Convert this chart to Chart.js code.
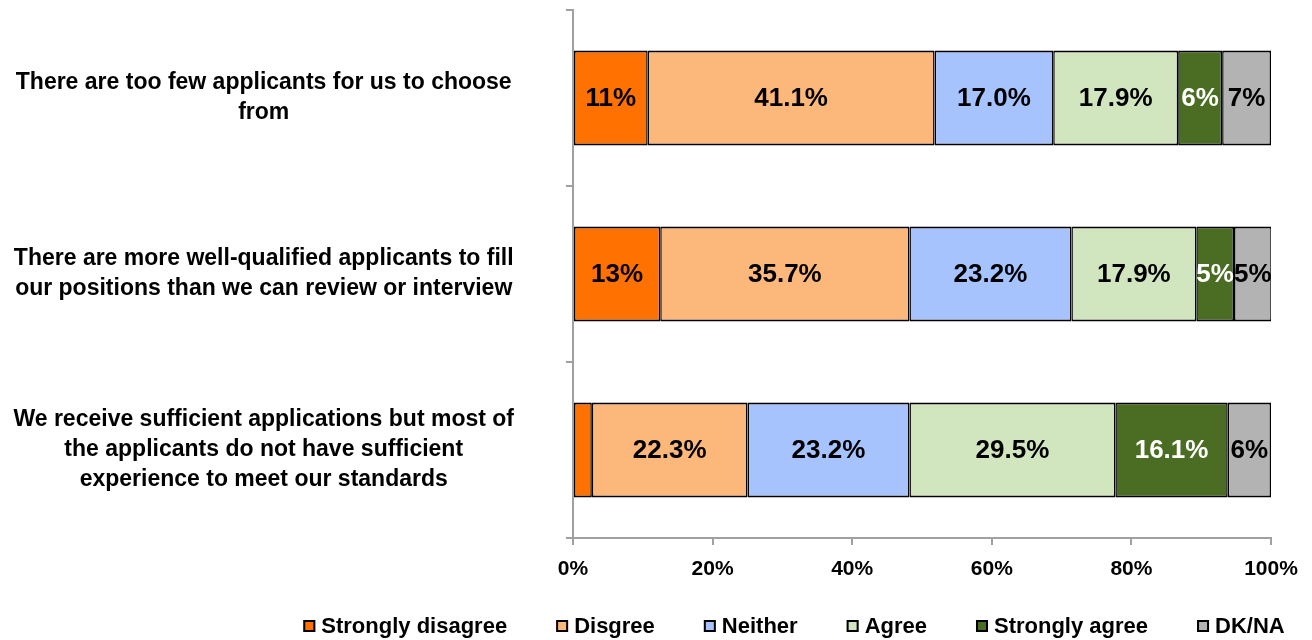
<!DOCTYPE html>
<html>
<head>
<meta charset="utf-8">
<script src="https://cdn.jsdelivr.net/npm/chart.js@4/dist/chart.umd.min.js"></script>
<style>
  html, body { margin: 0; padding: 0; background: #ffffff; }
  #wrap { width: 1312px; height: 640px; }
</style>
</head>
<body>
<div id="wrap"><canvas id="c" width="1312" height="640"></canvas></div>
<script>
// Survey statements (one line of text per array entry)
const statements = [
  ["There are too few applicants for us to choose", "from"],
  ["There are more well-qualified applicants to fill", "our positions than we can review or interview"],
  ["We receive sufficient applications but most of", "the applicants do not have sufficient", "experience to meet our standards"]
];

const seriesNames = ["Strongly disagree", "Disgree", "Neither", "Agree", "Strongly agree", "DK/NA"];

// Share of respondents (%) per statement
const stronglyDisagree = [10.7, 12.5, 2.7];
const disagree         = [41.1, 35.7, 22.3];
const neither          = [17.0, 23.2, 23.2];
const agree            = [17.9, 17.9, 29.5];
const stronglyAgree    = [6.3, 5.4, 16.1];
const dkNa             = [7.0, 5.4, 6.2];

const xTickValues = [0, 20, 40, 60, 80, 100];

const seriesValues = [stronglyDisagree, disagree, neither, agree, stronglyAgree, dkNa];
const fillColors = ["#FF7100", "#FCB77A", "#A7C3FD", "#D1E5BE", "#4A6D23", "#B3B3B3"];
const textColors = ["#000000", "#000000", "#000000", "#000000", "#FFFFFF", "#000000"];

const FONT = '"Liberation Sans", Arial, Helvetica, sans-serif';
const AXIS_GREY = "#A0A0A0";

// Percent labels centred on each segment
const segmentLabels = {
  id: "segmentLabels",
  afterDatasetsDraw(chart, args, opts) {
    const ctx = chart.ctx;
    ctx.save();
    ctx.font = opts.font;
    ctx.textAlign = "center";
    ctx.textBaseline = "middle";
    chart.data.datasets.forEach((ds, di) => {
      const meta = chart.getDatasetMeta(di);
      meta.data.forEach((bar, i) => {
        const v = ds.data[i];
        if (v < opts.minValue) return;
        const txt = (v >= 15 ? v.toFixed(1) : String(Math.round(v))) + "%";
        ctx.fillStyle = ds.labelColor;
        ctx.fillText(txt, (bar.x + bar.base) / 2, bar.y + 1);
      });
    });
    ctx.restore();
  }
};

// Key row drawn under the axis
const bottomKey = {
  id: "bottomKey",
  afterDraw(chart, args, opts) {
    const ctx = chart.ctx;
    ctx.save();
    ctx.font = opts.font;
    const items = chart.data.datasets.map(ds => ({
      text: ds.label,
      fill: ds.backgroundColor,
      w: ctx.measureText(ds.label).width
    }));
    const total = items.reduce((s, it) => s + opts.box + opts.gap + it.w, 0) + opts.spacing * (items.length - 1);
    let x = opts.centerX - total / 2;
    const y = opts.y;
    items.forEach(it => {
      ctx.fillStyle = it.fill;
      ctx.fillRect(x, y - opts.box / 2, opts.box, opts.box);
      ctx.lineWidth = 2;
      ctx.strokeStyle = "#000000";
      ctx.strokeRect(x + 1, y - opts.box / 2 + 1, opts.box - 2, opts.box - 2);
      ctx.fillStyle = "#000000";
      ctx.textAlign = "left";
      ctx.textBaseline = "middle";
      ctx.fillText(it.text, x + opts.box + opts.gap, y + 1);
      x += opts.box + opts.gap + it.w + opts.spacing;
    });
    ctx.restore();
  }
};

const datasets = seriesNames.map((name, k) => ({
  label: name,
  data: seriesValues[k],
  backgroundColor: fillColors[k],
  borderColor: "#000000",
  borderWidth: { top: 2, bottom: 2, left: 1.5, right: 1.5 },
  borderSkipped: false,
  labelColor: textColors[k],
  barPercentage: 0.54,
  categoryPercentage: 1.0
}));

new Chart(document.getElementById("c"), {
  type: "bar",
  data: { labels: statements, datasets },
  plugins: [segmentLabels, bottomKey],
  options: {
    indexAxis: "y",
    responsive: false,
    devicePixelRatio: 1,
    animation: false,
    layout: { padding: { top: 10, right: 41, bottom: 52, left: 0 } },
    scales: {
      x: {
        stacked: true,
        min: 0,
        max: 100,
        afterBuildTicks: scale => { scale.ticks = xTickValues.map(v => ({ value: v })); },
        afterFit: scale => { scale.height = 50; scale.paddingLeft = 0; scale.paddingRight = 0; },
        grid: { drawOnChartArea: false, drawTicks: true, tickLength: 7, color: AXIS_GREY, lineWidth: 2 },
        border: { display: true, color: AXIS_GREY, width: 2 },
        ticks: {
          callback: v => v + "%",
          color: "#000000",
          padding: 12,
          maxRotation: 0,
          font: { family: FONT, size: 21, weight: "bold" }
        }
      },
      y: {
        stacked: true,
        afterFit: scale => { scale.width = 573; scale.paddingTop = 0; scale.paddingBottom = 0; },
        grid: { drawOnChartArea: false, drawTicks: true, tickLength: 7, color: AXIS_GREY, lineWidth: 2, offset: true },
        border: { display: true, color: AXIS_GREY, width: 2 },
        ticks: {
          color: "#000000",
          crossAlign: "center",
          padding: 52,
          font: { family: FONT, size: 23, weight: "bold", lineHeight: 1.3 }
        }
      }
    },
    plugins: {
      legend: { display: false },
      tooltip: { enabled: false },
      segmentLabels: { font: "bold 26px " + FONT, minValue: 3 },
      bottomKey: { font: "bold 22px " + FONT, box: 12, gap: 6, spacing: 49, centerX: 794, y: 626 }
    }
  }
});
</script>
</body>
</html>
